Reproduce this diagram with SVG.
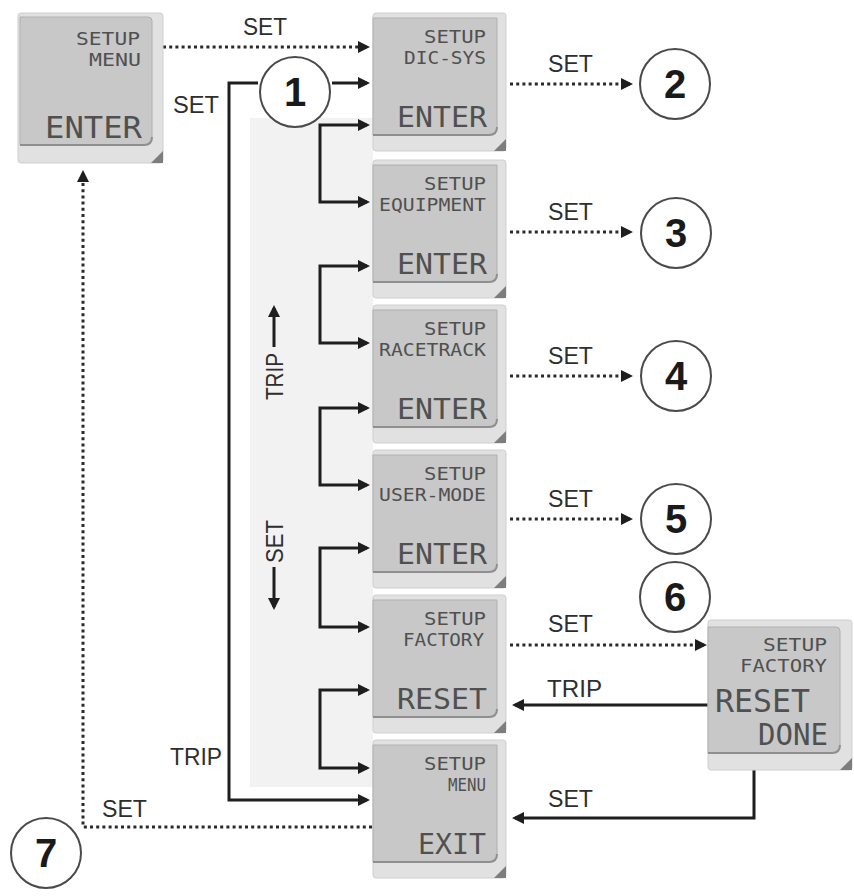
<svg xmlns="http://www.w3.org/2000/svg" width="854" height="896" viewBox="0 0 854 896">
<style>
.frame{fill:#e1e1e1;stroke:#cfcfcf;stroke-width:1}
.face{fill:#c8c8c8;stroke:#b0b0b0;stroke-width:1}
.edge{fill:none;stroke:#8f8f8f;stroke-width:2}
.corner{fill:#7d7d7d}
.lcd{font-family:"DejaVu Sans Mono",monospace;fill:#505050;text-anchor:end}
.sm{font-size:17px}
.lg{font-size:28px}
.lbl{font-family:"Liberation Sans",Arial,sans-serif;font-size:24px;fill:#2e2e2e}
.num{font-family:"Liberation Sans",Arial,sans-serif;font-weight:bold;font-size:40px;fill:#1a1a1a;text-anchor:middle}
.circ{fill:#fff;stroke:#4a4a4a;stroke-width:2}
.solid{fill:none;stroke:#1e1e1e;stroke-width:3}
.dot{fill:none;stroke:#2a2a2a;stroke-width:3;stroke-dasharray:3 3.2}
</style>
<defs>
<marker id="ah" viewBox="0 0 12 12" refX="9" refY="6" markerWidth="12" markerHeight="12" markerUnits="userSpaceOnUse" orient="auto-start-reverse">
<path d="M0,0 L12,6 L0,12 Z" fill="#1e1e1e"/>
</marker>
</defs>
<rect width="854" height="896" fill="#ffffff"/>
<rect id="panel" x="250" y="118" width="123" height="669" fill="#f2f2f2"/>

<g id="connectors">
<path class="dot" d="M163,47 H367" marker-end="url(#ah)"/>
<path class="solid" d="M332,83 H367" marker-end="url(#ah)"/>
<path class="solid" d="M258,83 H229 V800 H367" marker-end="url(#ah)"/>
<path class="solid" d="M367,125 H320 V202 H367" marker-start="url(#ah)" marker-end="url(#ah)"/>
<path class="solid" d="M367,266 H320 V343 H367" marker-start="url(#ah)" marker-end="url(#ah)"/>
<path class="solid" d="M367,408 H320 V485 H367" marker-start="url(#ah)" marker-end="url(#ah)"/>
<path class="solid" d="M367,548 H320 V627 H367" marker-start="url(#ah)" marker-end="url(#ah)"/>
<path class="solid" d="M367,690 H320 V768 H367" marker-start="url(#ah)" marker-end="url(#ah)"/>
<path class="dot" d="M510,84 H630" marker-end="url(#ah)"/>
<path class="dot" d="M510,232 H630" marker-end="url(#ah)"/>
<path class="dot" d="M510,376 H630" marker-end="url(#ah)"/>
<path class="dot" d="M510,519 H630" marker-end="url(#ah)"/>
<path class="dot" d="M510,645 H704" marker-end="url(#ah)"/>
<path class="solid" d="M708,705 H515" marker-end="url(#ah)"/>
<path class="solid" d="M754,770 V818 H515" marker-end="url(#ah)"/>
<path class="dot" d="M372,827 H83 V173" marker-end="url(#ah)"/>
<path class="solid" d="M274,347 V308" marker-end="url(#ah)"/>
<path class="solid" d="M274,567 V607" marker-end="url(#ah)"/>
</g>

<g id="labels">
<text class="lbl" x="243" y="35" textLength="44" lengthAdjust="spacingAndGlyphs">SET</text>
<text class="lbl" x="173" y="113" textLength="46" lengthAdjust="spacingAndGlyphs">SET</text>
<text class="lbl" x="548" y="72" textLength="45" lengthAdjust="spacingAndGlyphs">SET</text>
<text class="lbl" x="548" y="220" textLength="45" lengthAdjust="spacingAndGlyphs">SET</text>
<text class="lbl" x="548" y="364" textLength="45" lengthAdjust="spacingAndGlyphs">SET</text>
<text class="lbl" x="548" y="507" textLength="45" lengthAdjust="spacingAndGlyphs">SET</text>
<text class="lbl" x="548" y="632" textLength="45" lengthAdjust="spacingAndGlyphs">SET</text>
<text class="lbl" x="547" y="697" textLength="55" lengthAdjust="spacingAndGlyphs">TRIP</text>
<text class="lbl" x="548" y="807" textLength="45" lengthAdjust="spacingAndGlyphs">SET</text>
<text class="lbl" x="170" y="765" textLength="52" lengthAdjust="spacingAndGlyphs">TRIP</text>
<text class="lbl" x="102" y="817" textLength="45" lengthAdjust="spacingAndGlyphs">SET</text>
<text class="lbl" transform="translate(283,400) rotate(-90)" font-size="21" textLength="47" lengthAdjust="spacingAndGlyphs">TRIP</text>
<text class="lbl" transform="translate(283,563) rotate(-90)" font-size="21" textLength="43" lengthAdjust="spacingAndGlyphs">SET</text>
</g>

<g id="node-setup-menu">
<rect class="frame" x="18" y="13" width="145" height="150" rx="3"/>
<path class="face" d="M20,17 H148 Q152,17 152,21 V137 Q152,145 144,145 H20 Z"/>
<path class="edge" d="M20,145 H144 Q152,145 152,137"/>
<path class="corner" d="M163,151 V163 H151 Z"/>
<text class="lcd sm" x="140" y="45" textLength="64" lengthAdjust="spacingAndGlyphs">SETUP</text>
<text class="lcd sm" x="141" y="66" textLength="52" lengthAdjust="spacingAndGlyphs">MENU</text>
<text class="lcd" font-size="31" x="142" y="138" textLength="97" lengthAdjust="spacingAndGlyphs">ENTER</text>
</g>

<g id="node-dic-sys">
<rect class="frame" x="373" y="13" width="133" height="138" rx="3"/>
<path class="face" d="M373,18 H497 V127 Q497,135 489,135 H373 Z"/>
<path class="edge" d="M373,135 H489 Q497,135 497,127"/>
<path class="corner" d="M506,139 V151 H494 Z"/>
<text class="lcd sm" x="486" y="43" textLength="62" lengthAdjust="spacingAndGlyphs">SETUP</text>
<text class="lcd sm" x="486" y="64" textLength="82" lengthAdjust="spacingAndGlyphs">DIC-SYS</text>
<text class="lcd lg" x="487" y="127" textLength="90" lengthAdjust="spacingAndGlyphs">ENTER</text>
</g>

<g id="node-equipment">
<rect class="frame" x="373" y="160" width="133" height="138" rx="3"/>
<path class="face" d="M373,165 H497 V274 Q497,282 489,282 H373 Z"/>
<path class="edge" d="M373,282 H489 Q497,282 497,274"/>
<path class="corner" d="M506,286 V298 H494 Z"/>
<text class="lcd sm" x="486" y="190" textLength="62" lengthAdjust="spacingAndGlyphs">SETUP</text>
<text class="lcd sm" x="486" y="211" textLength="107" lengthAdjust="spacingAndGlyphs">EQUIPMENT</text>
<text class="lcd lg" x="487" y="274" textLength="90" lengthAdjust="spacingAndGlyphs">ENTER</text>
</g>

<g id="node-racetrack">
<rect class="frame" x="373" y="305" width="133" height="138" rx="3"/>
<path class="face" d="M373,310 H497 V419 Q497,427 489,427 H373 Z"/>
<path class="edge" d="M373,427 H489 Q497,427 497,419"/>
<path class="corner" d="M506,431 V443 H494 Z"/>
<text class="lcd sm" x="486" y="335" textLength="62" lengthAdjust="spacingAndGlyphs">SETUP</text>
<text class="lcd sm" x="486" y="356" textLength="107" lengthAdjust="spacingAndGlyphs">RACETRACK</text>
<text class="lcd lg" x="487" y="419" textLength="90" lengthAdjust="spacingAndGlyphs">ENTER</text>
</g>

<g id="node-user-mode">
<rect class="frame" x="373" y="450" width="133" height="138" rx="3"/>
<path class="face" d="M373,455 H497 V564 Q497,572 489,572 H373 Z"/>
<path class="edge" d="M373,572 H489 Q497,572 497,564"/>
<path class="corner" d="M506,576 V588 H494 Z"/>
<text class="lcd sm" x="486" y="480" textLength="62" lengthAdjust="spacingAndGlyphs">SETUP</text>
<text class="lcd sm" x="486" y="501" textLength="107" lengthAdjust="spacingAndGlyphs">USER-MODE</text>
<text class="lcd lg" x="487" y="564" textLength="90" lengthAdjust="spacingAndGlyphs">ENTER</text>
</g>

<g id="node-factory">
<rect class="frame" x="373" y="595" width="133" height="138" rx="3"/>
<path class="face" d="M373,600 H497 V709 Q497,717 489,717 H373 Z"/>
<path class="edge" d="M373,717 H489 Q497,717 497,709"/>
<path class="corner" d="M506,721 V733 H494 Z"/>
<text class="lcd sm" x="486" y="625" textLength="62" lengthAdjust="spacingAndGlyphs">SETUP</text>
<text class="lcd sm" x="484" y="646" textLength="81" lengthAdjust="spacingAndGlyphs">FACTORY</text>
<text class="lcd lg" x="487" y="709" textLength="90" lengthAdjust="spacingAndGlyphs">RESET</text>
</g>

<g id="node-exit">
<rect class="frame" x="373" y="740" width="133" height="138" rx="3"/>
<path class="face" d="M373,745 H497 V854 Q497,862 489,862 H373 Z"/>
<path class="edge" d="M373,862 H489 Q497,862 497,854"/>
<path class="corner" d="M506,866 V878 H494 Z"/>
<text class="lcd sm" x="486" y="770" textLength="62" lengthAdjust="spacingAndGlyphs">SETUP</text>
<text class="lcd sm" x="486" y="791" textLength="38" lengthAdjust="spacingAndGlyphs">MENU</text>
<text class="lcd lg" x="486" y="854" textLength="68" lengthAdjust="spacingAndGlyphs">EXIT</text>
</g>

<g id="node-reset-done">
<rect class="frame" x="708" y="620" width="144" height="150" rx="3"/>
<path class="face" d="M708,627 H836 Q840,627 840,631 V745 Q840,753 832,753 H708 Z"/>
<path class="edge" d="M708,753 H832 Q840,753 840,745"/>
<path class="corner" d="M852,758 V770 H840 Z"/>
<text class="lcd sm" x="827" y="651" textLength="64" lengthAdjust="spacingAndGlyphs">SETUP</text>
<text class="lcd sm" x="827" y="672" textLength="87" lengthAdjust="spacingAndGlyphs">FACTORY</text>
<text class="lcd" font-size="32" x="810" y="712" textLength="95" lengthAdjust="spacingAndGlyphs">RESET</text>
<text class="lcd" font-size="30" x="828" y="745" textLength="70" lengthAdjust="spacingAndGlyphs">DONE</text>
</g>

<g id="node-c1"><circle class="circ" cx="295" cy="92" r="35"/><text class="num" x="295" y="106">1</text></g>
<g id="node-c2"><circle class="circ" cx="675" cy="84" r="35"/><text class="num" x="675" y="98">2</text></g>
<g id="node-c3"><circle class="circ" cx="676" cy="233" r="35"/><text class="num" x="676" y="247">3</text></g>
<g id="node-c4"><circle class="circ" cx="676" cy="376" r="35"/><text class="num" x="676" y="390">4</text></g>
<g id="node-c5"><circle class="circ" cx="676" cy="519" r="35"/><text class="num" x="676" y="533">5</text></g>
<g id="node-c6"><circle class="circ" cx="675" cy="597" r="35"/><text class="num" x="675" y="611">6</text></g>
<g id="node-c7"><circle class="circ" cx="46" cy="853" r="35"/><text class="num" x="46" y="867">7</text></g>
</svg>
